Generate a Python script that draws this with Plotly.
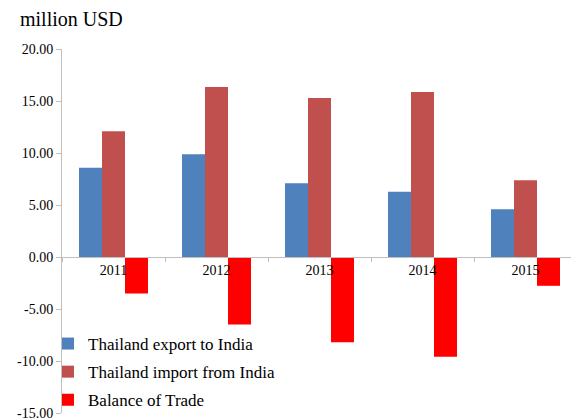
import plotly.graph_objects as go

years = ["2011", "2012", "2013", "2014", "2015"]
export_to_india = [8.59, 9.87, 7.10, 6.28, 4.60]
import_from_india = [12.10, 16.35, 15.30, 15.87, 7.37]
balance_of_trade = [-3.51, -6.48, -8.20, -9.59, -2.77]

ytick_vals = [20, 15, 10, 5, 0, -5, -10, -15]
ytick_text = ["20.00", "15.00", "10.00", "5.00", "0.00", "-5.00", "-10.00", "-15.00"]

FONT = "Liberation Serif, Times New Roman, serif"

fig = go.Figure()
fig.add_trace(go.Bar(x=years, y=export_to_india, name="Thailand export to India",
                     legendgroup="a", marker=dict(color="#4F81BD", line=dict(width=0))))
fig.add_trace(go.Bar(x=years, y=import_from_india, name="Thailand import from India",
                     legendgroup="b", marker=dict(color="#C0504D", line=dict(width=0))))
fig.add_trace(go.Bar(x=years, y=balance_of_trade, name="Balance of Trade",
                     legendgroup="c", marker=dict(color="#FF0000", line=dict(width=0))))

W, H = 571, 419
ml, mr, mt, mb = 62, 0, 49, 6
zero_frac = 15 / 35
pw = W - ml - mr
ph = H - mt - mb

fig.update_layout(
    width=W, height=H,
    margin=dict(l=ml, r=mr, t=mt, b=mb, autoexpand=False),
    paper_bgcolor="white", plot_bgcolor="white",
    barmode="group", bargap=0.33, bargroupgap=0,
    font=dict(family=FONT, color="#000000", size=14),
    title=dict(text="million USD", x=20 / W, xanchor="left", y=1 - 19 / H, yanchor="middle",
               font=dict(family=FONT, size=20, color="#000000")),
    showlegend=True,
    legend=dict(x=(48 - ml) / pw, xanchor="left", y=(H - mb - 326) / ph, yanchor="top",
                font=dict(family=FONT, size=17, color="#000000"),
                bgcolor="rgba(0,0,0,0)", traceorder="grouped", tracegroupgap=3,
                itemwidth=30),
    xaxis=dict(type="category", range=[-0.5, -0.5 + pw / 103],
               anchor="free", position=zero_frac,
               showline=True, linecolor="#BFBFBF", linewidth=1,
               ticks="outside", tickson="boundaries", ticklen=4, tickcolor="#BFBFBF",
               showgrid=False, zeroline=False,
               tickfont=dict(family=FONT, size=14, color="#000000")),
    yaxis=dict(range=[-15, 20], tickvals=ytick_vals, ticktext=ytick_text,
               showline=True, linecolor="#BFBFBF", linewidth=1,
               ticks="outside", ticklen=5, tickcolor="#BFBFBF",
               showgrid=False, zeroline=False, ticklabeloverflow="allow",
               tickfont=dict(family=FONT, size=14, color="#000000")),
)

fig.write_html("out.html", config={"displayModeBar": False},
               post_script="document.body.style.margin='0';document.body.style.overflow='hidden';")
